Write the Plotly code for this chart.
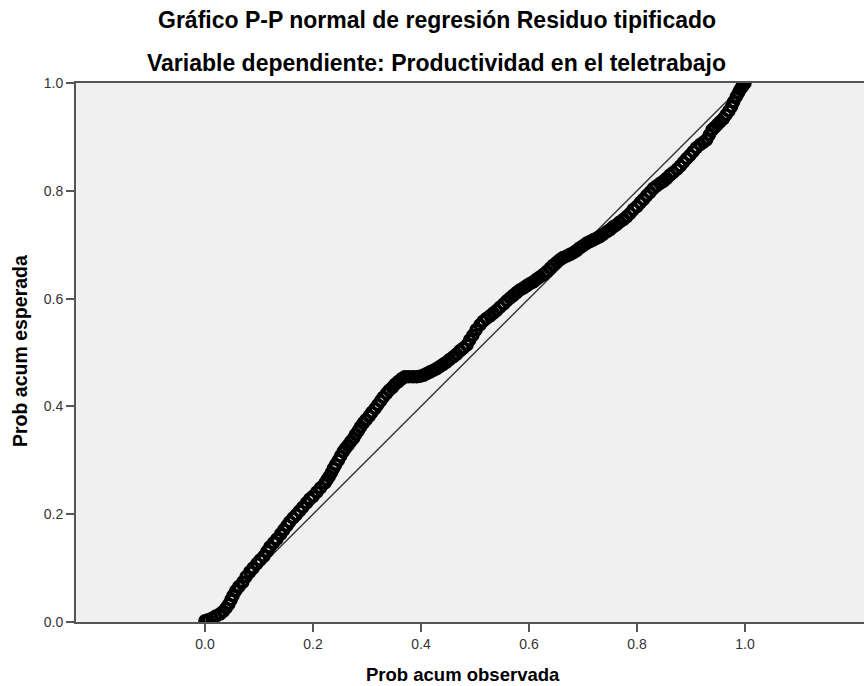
import plotly.graph_objects as go

# Observed cumulative probability (x) and expected cumulative probability (y)
obs_prob = [
    0.000, 0.006, 0.013, 0.020, 0.028, 0.034, 0.039, 0.044, 0.048, 0.052,
    0.057, 0.063, 0.070, 0.076, 0.083, 0.089, 0.096, 0.102, 0.109, 0.115,
    0.120, 0.127, 0.133, 0.140, 0.146, 0.152, 0.157, 0.163, 0.169, 0.175,
    0.181, 0.188, 0.194, 0.200, 0.207, 0.214, 0.222,
    0.226, 0.230, 0.234, 0.238, 0.242, 0.247, 0.251, 0.256, 0.260, 0.265,
    0.270, 0.275, 0.279, 0.284, 0.288, 0.293, 0.298, 0.304, 0.309, 0.315,
    0.320, 0.325, 0.330, 0.336, 0.341, 0.347, 0.352, 0.358, 0.364, 0.370,
    0.377, 0.385, 0.392, 0.398, 0.405, 0.411, 0.417, 0.423, 0.429, 0.435,
    0.441, 0.447, 0.453, 0.460, 0.466, 0.472, 0.478, 0.485,
    0.490, 0.496, 0.502, 0.509, 0.515, 0.521, 0.528, 0.534, 0.540, 0.546,
    0.553, 0.559, 0.565, 0.571, 0.577, 0.583, 0.590, 0.596, 0.602, 0.608,
    0.614, 0.620, 0.627, 0.633, 0.639, 0.645, 0.651, 0.657, 0.663, 0.670,
    0.676, 0.682, 0.688, 0.694, 0.700, 0.707, 0.713, 0.719, 0.725, 0.731,
    0.737, 0.744, 0.750, 0.756, 0.762, 0.768, 0.775, 0.781, 0.787, 0.793,
    0.800, 0.806,
    0.812, 0.818, 0.824, 0.830, 0.836, 0.843, 0.849, 0.855, 0.861, 0.867,
    0.874, 0.880, 0.886, 0.892, 0.898, 0.904, 0.910, 0.917, 0.923, 0.929,
    0.934, 0.939, 0.944, 0.949, 0.954, 0.960, 0.965, 0.970, 0.975, 0.979,
    0.984, 0.988, 0.991, 0.994, 0.996, 0.998, 1.000,
]
exp_prob = [
    0.002, 0.004, 0.007, 0.011, 0.015, 0.020, 0.026, 0.033, 0.041, 0.049,
    0.058, 0.066, 0.074, 0.084, 0.093, 0.100, 0.108, 0.115, 0.122, 0.131,
    0.139, 0.147, 0.154, 0.163, 0.171, 0.179, 0.186, 0.193, 0.199, 0.206,
    0.213, 0.221, 0.228, 0.233, 0.241, 0.249, 0.258,
    0.264, 0.270, 0.277, 0.285, 0.292, 0.300, 0.308, 0.316, 0.322, 0.328,
    0.335, 0.341, 0.348, 0.355, 0.362, 0.369, 0.375, 0.382, 0.389, 0.396,
    0.403, 0.410, 0.417, 0.424, 0.430, 0.435, 0.441, 0.446, 0.451, 0.455,
    0.455, 0.455, 0.455, 0.456, 0.458, 0.461, 0.464, 0.467, 0.470, 0.474,
    0.478, 0.482, 0.487, 0.492, 0.497, 0.503, 0.508, 0.514,
    0.523, 0.532, 0.542, 0.551, 0.558, 0.563, 0.568, 0.573, 0.578, 0.584,
    0.590, 0.596, 0.601, 0.606, 0.611, 0.616, 0.620, 0.624, 0.628, 0.631,
    0.636, 0.640, 0.645, 0.650, 0.656, 0.662, 0.667, 0.672, 0.676, 0.679,
    0.682, 0.685, 0.689, 0.694, 0.698, 0.703, 0.706, 0.709, 0.712, 0.715,
    0.719, 0.724, 0.728, 0.733, 0.737, 0.742, 0.747, 0.752, 0.758, 0.765,
    0.771, 0.778,
    0.784, 0.791, 0.797, 0.804, 0.809, 0.814, 0.818, 0.823, 0.829, 0.834,
    0.840, 0.846, 0.853, 0.860, 0.866, 0.873, 0.880, 0.886, 0.890, 0.895,
    0.904, 0.913, 0.918, 0.923, 0.928, 0.934, 0.941, 0.948, 0.956, 0.965,
    0.975, 0.982, 0.988, 0.992, 0.995, 0.998, 1.000,
]
ref_line = [0.0, 1.0]
tick_vals = [0.0, 0.2, 0.4, 0.6, 0.8, 1.0]

title_1 = "Gráfico P-P normal de regresión Residuo tipificado"
title_2 = "Variable dependiente: Productividad en el teletrabajo"
x_title = "Prob acum observada"
y_title = "Prob acum esperada"

W, H = 864, 686
ML, MR, MT, MB = 76, 0, 83, 64
X0_PX, X1_PX = 205, 745  # pixel positions of 0.0 and 1.0
scale = (X1_PX - X0_PX)
x_lo = (ML - X0_PX) / scale
x_hi = (W - MR - X0_PX) / scale

fig = go.Figure()
fig.add_trace(go.Scatter(
    x=ref_line, y=ref_line, mode="lines",
    line=dict(color="#333333", width=1.4), hoverinfo="skip", showlegend=False,
))
fig.add_trace(go.Scatter(
    x=obs_prob, y=exp_prob, mode="markers",
    marker=dict(symbol="circle-open", size=10, color="#000000",
                line=dict(width=3.6, color="#000000")),
    showlegend=False,
))

axis_common = dict(
    showgrid=False, zeroline=False, showline=True, linecolor="#555555", linewidth=2,
    ticks="outside", ticklen=8, tickwidth=2, tickcolor="#555555",
    tickvals=tick_vals, tickformat=".1f",
    tickfont=dict(family="Liberation Sans, Arial, sans-serif", size=14, color="#333333"),
)
fig.update_xaxes(range=[x_lo, x_hi], mirror=True, **axis_common)
fig.update_yaxes(range=[0, 1], mirror=False, **axis_common)

title_font = dict(family="Liberation Sans, Arial, sans-serif", size=23, color="#000000")
axis_font = dict(family="Liberation Sans, Arial, sans-serif", size=18.5, color="#000000")
yaxis_font = dict(family="Liberation Sans, Arial, sans-serif", size=19.5, color="#000000")
annotations = [
    dict(text="<b>%s</b>" % title_1, x=437, y=20, textangle=0, font=title_font),
    dict(text="<b>%s</b>" % title_2, x=436, y=63, textangle=0, font=title_font),
    dict(text="<b>%s</b>" % x_title, x=463, y=674, textangle=0, font=axis_font),
    dict(text="<b>%s</b>" % y_title, x=20, y=351, textangle=-90, font=yaxis_font),
]
# convert pixel positions (figure coords) to plot-area paper fractions
for a in annotations:
    fx, fy = a["x"], a["y"]
    a.update(
        xref="paper", yref="paper", xanchor="center", yanchor="middle", showarrow=False,
        x=(fx - ML) / (W - ML - MR),
        y=1 - (fy - MT) / (H - MT - MB),
    )

fig.update_layout(
    width=W, height=H,
    margin=dict(l=ML, r=MR, t=MT, b=MB, pad=0),
    paper_bgcolor="#ffffff", plot_bgcolor="#f0f0f0",
    annotations=annotations, showlegend=False,
)

fig.write_html("out.html")
